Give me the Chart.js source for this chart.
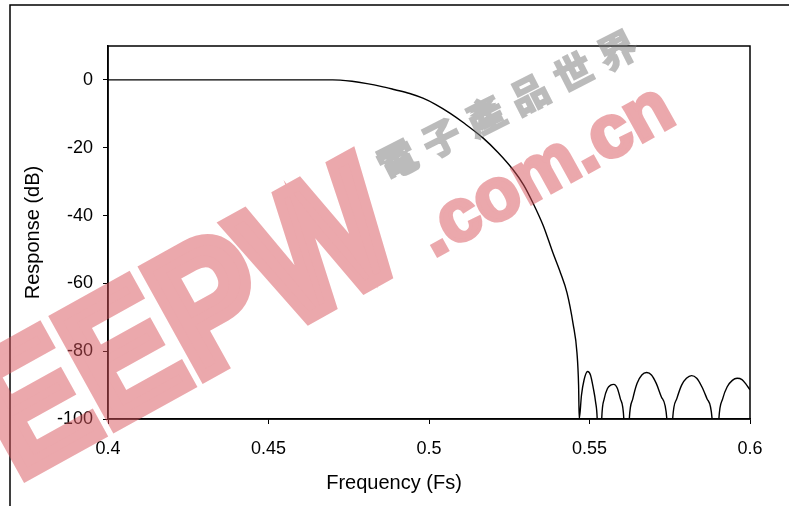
<!DOCTYPE html>
<html>
<head>
<meta charset="utf-8">
<script src="https://cdn.jsdelivr.net/npm/chart.js@4.4.1/dist/chart.umd.min.js"></script>
<style>
  html, body { margin: 0; padding: 0; background: #fff; }
  #wrap { width: 789px; height: 506px; position: relative; }
</style>
</head>
<body>
<div id="wrap"><canvas id="responseChart"></canvas></div>
<script>
// frequency axis (Fs) and filter response (dB)
const freq = [
  0.400, 0.440, 0.470, 0.4723, 0.476, 0.4807, 0.485, 0.4894, 0.494, 0.4981,
  0.502, 0.5065, 0.511, 0.5168, 0.5215, 0.5262, 0.5295, 0.5324, 0.5356, 0.5386,
  0.541, 0.543, 0.5449, 0.5461, 0.5466, 0.5468,
  0.5475, 0.5483, 0.5494, 0.5503, 0.5512, 0.5519, 0.5524, 0.5531,
  0.5538, 0.5546, 0.5556, 0.5566, 0.5576, 0.5586, 0.5596, 0.5607, 0.5615,
  0.5624, 0.5635, 0.5648, 0.5663, 0.5678, 0.5693, 0.5708, 0.5724, 0.5741, 0.5750,
  0.5759, 0.5772, 0.5787, 0.5802, 0.5818, 0.5834, 0.5850, 0.5866, 0.5882, 0.5892,
  0.5903, 0.5915, 0.5929, 0.5945, 0.5960, 0.5975, 0.5988, 0.6000
];
const respDb = [
  0, 0, 0, -0.05, -0.4, -1.1, -1.9, -2.9, -4.0, -5.4,
  -7.2, -9.8, -12.8, -17.1, -21.4, -26.5, -31, -36.3, -43, -51,
  -57, -62.8, -72, -80.5, -90, -100,
  -93, -88.5, -86.0, -87, -91, -95, -100, -125,
  -100, -94, -91, -90, -89.8, -90.8, -94, -100, -125,
  -100, -94, -89.5, -87, -86.3, -87, -89.5, -93.5, -100, -125,
  -100, -94, -90, -88, -87.2, -88, -90.5, -94, -100, -125,
  -100, -94, -90.5, -88.6, -88.0, -88.4, -89.8, -91.4
];
const xTicks = [0.4, 0.45, 0.5, 0.55, 0.6];
const yTicks = [0, -20, -40, -60, -80, -100];
const xTitle = 'Frequency (Fs)';
const yTitle = 'Response (dB)';

const FONT = 'Liberation Sans, Arial, sans-serif';

// white page, outer frame, plot box and the x title (sits left of centre)
const framePlugin = {
  id: 'frame',
  beforeDraw(chart) {
    const ctx = chart.ctx;
    ctx.save();
    ctx.fillStyle = '#fff';
    ctx.fillRect(0, 0, chart.width, chart.height);
    ctx.restore();
  },
  afterDraw(chart) {
    const { ctx, chartArea: a } = chart;
    ctx.save();
    ctx.strokeStyle = '#000';
    ctx.lineWidth = 1.5;
    ctx.strokeRect(a.left, a.top, a.right - a.left, a.bottom - a.top);
    ctx.beginPath();
    ctx.moveTo(10, chart.height);
    ctx.lineTo(10, 5);
    ctx.lineTo(chart.width, 5);
    ctx.stroke();
    ctx.fillStyle = '#000';
    ctx.font = '20px ' + FONT;
    ctx.textAlign = 'center';
    ctx.textBaseline = 'middle';
    ctx.fillText(xTitle, 394, 483);
    ctx.restore();
  }
};

// site watermark laid over the chart, drawn opaque on a layer then blended
const watermarkPlugin = {
  id: 'watermark',
  afterDraw(chart) {
    const ctx = chart.ctx;
    const layer = document.createElement('canvas');
    layer.width = chart.width;
    layer.height = chart.height;
    const w = layer.getContext('2d');
    const ang = -29 * Math.PI / 180;
    w.textAlign = 'center';
    w.textBaseline = 'middle';
    w.fillStyle = w.strokeStyle = '#d8535b';
    w.lineJoin = 'miter';

    w.save();
    w.translate(190, 328);
    w.rotate(ang);
    w.scale(0.86, 1);
    w.font = 'bold 178px ' + FONT;
    w.lineWidth = 12;
    w.fillText('EEPW', 0, 0);
    w.strokeText('EEPW', 0, 0);
    w.restore();

    w.save();
    w.translate(546, 172);
    w.rotate(ang);
    w.font = 'bold 74px ' + FONT;
    w.lineWidth = 4;
    w.fillText('.com.cn', 0, 0);
    w.strokeText('.com.cn', 0, 0);
    w.restore();

    w.fillStyle = w.strokeStyle = '#7a7a7a';
    w.font = 'bold 38px "Noto Sans CJK TC"';
    w.lineWidth = 2;
    const chars = '電子產品世界';
    for (let i = 0; i < chars.length; i++) {
      w.save();
      w.translate(397 + i * 44, 160 - i * 22);
      w.rotate(-27 * Math.PI / 180);
      w.fillText(chars[i], 0, 0);
      w.strokeText(chars[i], 0, 0);
      w.restore();
    }

    ctx.save();
    ctx.globalAlpha = 0.5;
    ctx.drawImage(layer, 0, 0, chart.width, chart.height);
    ctx.restore();
  }
};

const ctx = document.getElementById('responseChart').getContext('2d');
new Chart(ctx, {
  type: 'line',
  data: {
    datasets: [{
      data: freq.map((f, i) => ({ x: f, y: respDb[i] })),
      borderColor: '#000',
      borderWidth: 1.4,
      pointRadius: 0,
      cubicInterpolationMode: 'monotone',
      fill: false
    }]
  },
  options: {
    responsive: true,
    maintainAspectRatio: false,
    animation: false,
    layout: { padding: { left: 10, top: 46, right: 39, bottom: 0 } },
    plugins: { legend: { display: false }, tooltip: { enabled: false } },
    scales: {
      x: {
        type: 'linear',
        min: 0.4, max: 0.6,
        afterBuildTicks: s => { s.ticks = xTicks.map(v => ({ value: v })); },
        afterFit: s => { s.height = 87; },
        ticks: {
          color: '#000', font: { family: FONT, size: 18 }, padding: 14,
          maxRotation: 0, autoSkip: false, callback: v => String(+v.toFixed(2))
        },
        grid: { drawOnChartArea: false, drawTicks: true, tickLength: 5, color: '#000' },
        border: { color: '#000', width: 1.5 }
      },
      y: {
        type: 'linear',
        min: -100, max: 10,
        afterBuildTicks: s => { s.ticks = yTicks.map(v => ({ value: v })); },
        afterFit: s => { s.width = 98; },
        ticks: { color: '#000', font: { family: FONT, size: 18 }, padding: 10 },
        grid: { drawOnChartArea: false, drawTicks: true, tickLength: 5, color: '#000' },
        border: { color: '#000', width: 1.5 },
        title: {
          display: true, text: yTitle, color: '#000',
          font: { family: FONT, size: 20 }, padding: { top: 11, bottom: 0 }
        }
      }
    }
  },
  plugins: [framePlugin, watermarkPlugin]
});
</script>
</body>
</html>
